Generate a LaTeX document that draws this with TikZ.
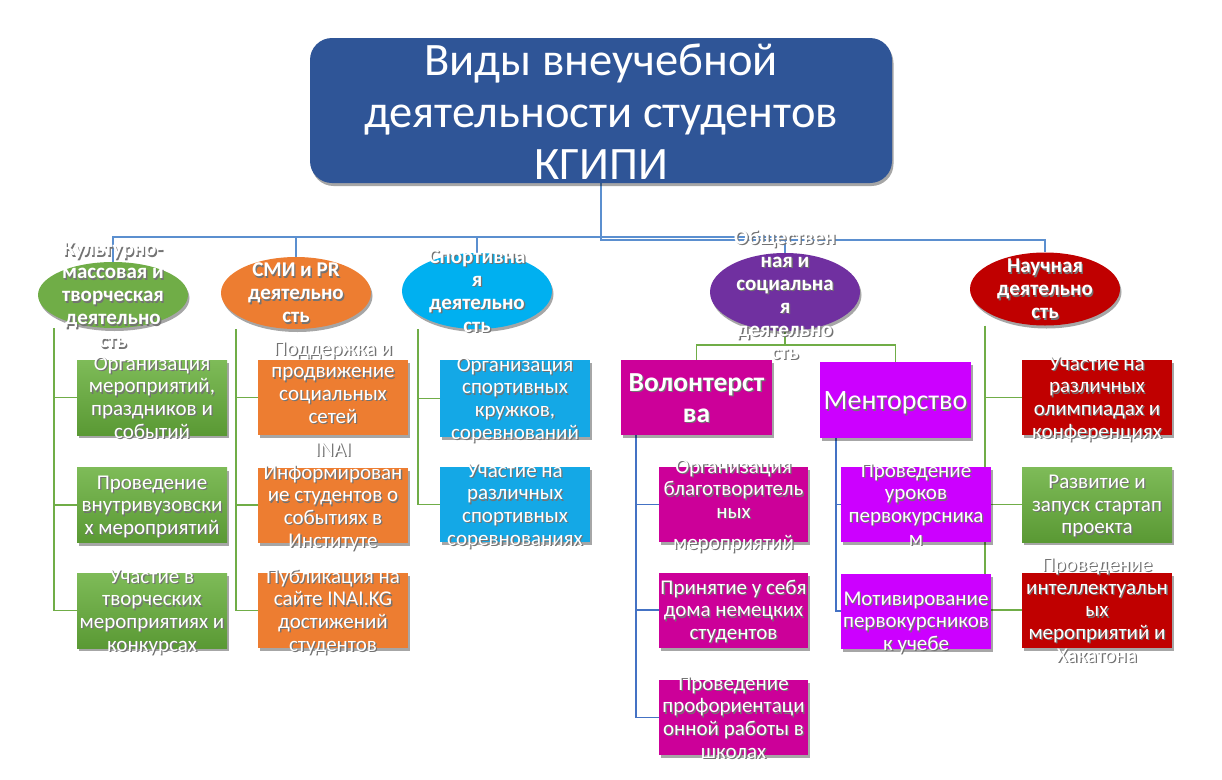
\documentclass[tikz,border=0pt]{standalone}
\usepackage{fontspec}
\setmainfont{Carlito}
\usetikzlibrary{shapes.geometric,shadows}
\definecolor{titleblue}{HTML}{2F5597}
\definecolor{busblue}{HTML}{5B8FCF}
\definecolor{brgreen}{HTML}{70AD47}
\definecolor{brblue}{HTML}{4472C4}
\definecolor{cgreen}{HTML}{70AD47}
\definecolor{gtop}{HTML}{7EBB58}
\definecolor{gbot}{HTML}{5A9934}
\definecolor{corange}{HTML}{ED7D31}
\definecolor{cblue}{HTML}{00B0F0}
\definecolor{bbox}{HTML}{14A8E6}
\definecolor{cpurple}{HTML}{7030A0}
\definecolor{cred}{HTML}{C00000}
\definecolor{cmag}{HTML}{CC0099}
\definecolor{cviol}{HTML}{CC00FF}
\pgfdeclarelayer{bg}
\pgfsetlayers{bg,main}
\newcommand\sh[2][0pt]{\makebox[0pt]{\raisebox{\dimexpr-0.35em+#1\relax}[0pt][0pt]{\rlap{\raisebox{-1.3pt}[0pt][0pt]{\hspace{1.3pt}\color{black!55}\begin{tabular}{@{}c@{}}#2\end{tabular}}}\begin{tabular}{@{}c@{}}#2\end{tabular}}}}
\newcommand\ct[2][0pt]{\makebox[0pt]{\raisebox{\dimexpr-0.33em+#1\relax}[0pt][0pt]{\begin{tabular}{@{}c@{}}#2\end{tabular}}}}
\tikzset{
  shd/.style={drop shadow={shadow xshift=1.5pt, shadow yshift=-3pt, opacity=0.35, fill=black}},
  titlebox/.style={rectangle, rounded corners=22pt, fill=titleblue, text=white, minimum width=582pt, minimum height=145pt, inner sep=0pt, font=\fontsize{46.5}{52}\selectfont, shd},
  ell/.style={ellipse, inner sep=0pt, minimum width=150pt, text=white, font=\bfseries\fontsize{21}{23}\selectfont, shd},
  box/.style={rectangle, inner sep=0pt, minimum width=150pt, minimum height=75pt, text=white, font=\fontsize{21}{22.7}\selectfont, shd},
  gbox/.style={box, top color=gtop, bottom color=gbot},
  obox/.style={box, fill=corange},
  bbx/.style={box, fill=bbox},
  mbox/.style={box, fill=cmag},
  vbox/.style={box, fill=cviol},
  rbox/.style={box, fill=cred},
  bus/.style={draw=busblue, line width=1.6pt},
  br/.style={draw=brgreen, line width=1.6pt},
  bl/.style={draw=brblue, line width=1.6pt},
}
\begin{document}
\begin{tikzpicture}[x=1pt,y=-1pt]
\useasboundingbox (0,0) rectangle (1222,779);
% title
\node[titlebox] (t) at (601,110.5) {\ct[3pt]{Виды внеучебной\\деятельности студентов\\КГИПИ}};
% ellipses
\node[ell, fill=cgreen, minimum height=66pt] (e1) at (113,295) {\sh{Культурно-\\массовая и\\творческая\\деятельно\\сть}};
\node[ell, fill=corange, minimum height=72pt] (e2) at (296,293) {\sh{СМИ и PR\\деятельно\\сть}};
\node[ell, fill=cblue, minimum height=76pt] (e3) at (477,291) {\sh{Спортивна\\я\\деятельно\\сть}};
\node[ell, fill=cpurple, minimum height=78pt] (e4) at (785,292) {\sh[-3pt]{Обществен\\ная и\\социальна\\я\\деятельно\\сть}};
\node[ell, fill=cred, minimum height=73pt] (e5) at (1045,289) {\sh{Научная\\деятельно\\сть}};
% green column
\node[gbox] (g1) at (152,397.5) {\sh{Организация\\мероприятий,\\праздников и\\событий}};
\node[gbox] (g2) at (152,505) {\sh{Проведение\\внутривузовски\\х мероприятий}};
\node[gbox] (g3) at (152,610.5) {\sh{Участие в\\творческих\\мероприятиях и\\конкурсах}};
% orange column
\node[obox] (o1) at (333,397.5) {\sh[15pt]{Поддержка и\\продвижение\\социальных\\сетей}};
\node[obox] (o2) at (333,505) {\sh[10pt]{INAI\\Информирован\\ие студентов о\\событиях в\\Институте}};
\node[obox] (o3) at (333,610.5) {\sh{Публикация на\\сайте INAI.KG\\достижений\\студентов}};
% blue column
\node[bbx, minimum height=77pt] (b1) at (515,398.5) {\sh{Организация\\спортивных\\кружков,\\соревнований}};
\node[bbx] (b2) at (515,504.5) {\sh{Участие на\\различных\\спортивных\\соревнованиях}};
% social column
\node[mbox, minimum width=151pt, font=\bfseries\fontsize{27.5}{31}\selectfont] (v) at (696.5,397.5) {\sh{Волонтерст\\ва}};
\node[vbox, minimum width=151pt, minimum height=76pt, font=\fontsize{28}{32}\selectfont] (m) at (895.5,400) {\sh{Менторство}};
\node[mbox, minimum width=149pt] (vc1) at (733.5,504.5) {\sh{Организация\\благотворитель\\ных\\[8pt]мероприятий}};
\node[mbox, minimum width=149pt] (vc2) at (733.5,610) {\sh{Принятие у себя\\дома немецких\\студентов}};
\node[mbox, minimum width=149pt] (vc3) at (733.5,717.5) {\sh{Проведение\\профориентаци\\онной работы в\\школах}};
\node[vbox] (mc1) at (916,504.5) {\sh{Проведение\\уроков\\первокурсника\\м}};
\node[vbox] (mc2) at (916,611) {\sh[-10pt]{Мотивирование\\первокурсников\\к учебе}};
% science column
\node[rbox] (r1) at (1097,397.5) {\sh{Участие на\\различных\\олимпиадах  и\\конференциях}};
\node[gbox] (r2) at (1097,504.5) {\sh{Развитие и\\запуск стартап\\проекта}};
\node[rbox] (r3) at (1097,610) {\sh{Проведение\\интеллектуальн\\ых\\мероприятий и\\Хакатона}};
% connectors
\begin{pgfonlayer}{bg}
\coordinate (ja) at (601,237);
\coordinate (jb) at (601,240);
\draw[bus] (e1.north) |- (ja) -| (e4.north);
\draw[bus] (e2.north) -- (e2.north |- ja);
\draw[bus] (e3.north) -- (e3.north |- ja);
\draw[bus] (t.south) -- (jb) -| (e5.north);
% green column branch
\coordinate (gx) at (54,0);
\draw[br] (gx |- e1.south) |- (g3.west);
\draw[br] (gx |- g1.west) -- (g1.west);
\draw[br] (gx |- g2.west) -- (g2.west);
% orange branch
\coordinate (ox) at (236,0);
\draw[br] (ox |- e2.south) |- (o3.west);
\draw[br] (ox |- o1.west) -- (o1.west);
\draw[br] (ox |- o2.west) -- (o2.west);
% blue branch
\coordinate (bx) at (418,0);
\draw[br] (bx |- e3.south) |- (b2.west);
\draw[br] (bx |- b1.west) -- (b1.west);
% social
\coordinate (oj) at (785,345);
\draw[br] (e4.south) -- (oj);
\draw[br] (v.north) |- (oj) -| (m.north);
\coordinate (vx) at (636,0);
\draw[bl] (vx |- v.south) |- (vc3.west);
\draw[bl] (vx |- vc1.west) -- (vc1.west);
\draw[bl] (vx |- vc2.west) -- (vc2.west);
\coordinate (mx) at (836,0);
\draw[bl] (mx |- m.south) |- (mc2.west);
\draw[bl] (mx |- mc1.west) -- (mc1.west);
% science
\coordinate (rx) at (985,0);
\draw[br] (rx |- e5.south) |- (r3.west);
\draw[br] (rx |- r1.west) -- (r1.west);
\draw[br] (rx |- r2.west) -- (r2.west);
\end{pgfonlayer}
\end{tikzpicture}
\end{document}
